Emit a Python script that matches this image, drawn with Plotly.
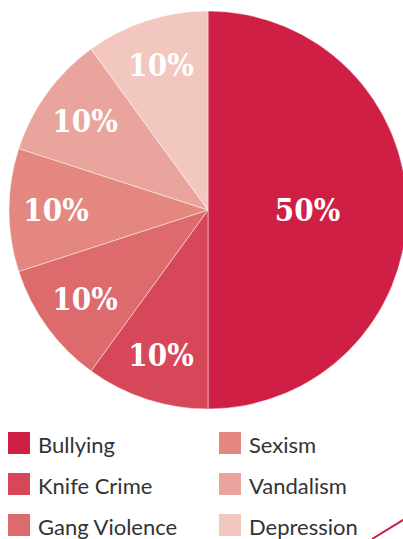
import plotly.graph_objects as go

# Share of reported issues
categories = ["Bullying", "Knife Crime", "Gang Violence", "Sexism", "Vandalism", "Depression"]
values = [50, 10, 10, 10, 10, 10]
colors = ["#CF1F45", "#D6475A", "#DD6A6C", "#E3877F", "#E9A59D", "#F1C7C0"]

W, H = 416, 539

def px(x):
    return x / W

def py(y):
    return 1 - y / H

fig = go.Figure(
    go.Pie(
        labels=categories,
        values=values,
        sort=False,
        direction="clockwise",
        rotation=0,
        marker=dict(colors=colors, line=dict(color="rgba(255,255,255,0.45)", width=1)),
        texttemplate="%{value}%",
        textposition="inside",
        insidetextorientation="horizontal",
        textfont=dict(family="DejaVu Serif Condensed, DejaVu Serif", size=31,
                      color="white", weight="bold"),
        hoverinfo="label+percent",
        showlegend=False,
        domain=dict(x=[px(9), px(407)], y=[py(409), py(11)]),
    )
)

# Two-column legend built from the category lists
shapes = []
annotations = []
for i, (name, col) in enumerate(zip(categories, colors)):
    c, r = divmod(i, 3)
    x0 = 8 if c == 0 else 219
    y0 = 432 + r * 41
    shapes.append(dict(type="rect", xref="paper", yref="paper",
                       x0=px(x0), x1=px(x0 + 22), y0=py(y0 + 22), y1=py(y0),
                       fillcolor=col, line=dict(width=0)))
    annotations.append(dict(text=name, xref="paper", yref="paper",
                            x=px(x0 + 28), y=py(y0 + 12), xanchor="left", yanchor="middle",
                            showarrow=False,
                            font=dict(family="Lato", size=22, color="#333333")))

# Decorative accent stroke in the corner
shapes.append(dict(type="line", xref="paper", yref="paper",
                   x0=px(372), y0=py(539), x1=px(416), y1=py(512),
                   line=dict(color="#CF1F45", width=2)))

fig.update_layout(
    width=W, height=H,
    margin=dict(l=0, r=0, t=0, b=0),
    paper_bgcolor="white",
    plot_bgcolor="white",
    shapes=shapes,
    annotations=annotations,
)

fig.write_html(
    "out.html",
    post_script="document.documentElement.style.overflow='hidden';document.body.style.overflow='hidden';",
)
